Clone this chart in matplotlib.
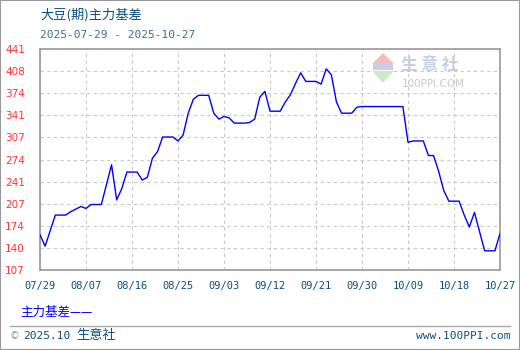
# -*- coding: utf-8 -*-
"""
大豆(期)主力基差 chart
"""
import pandas as pd
import matplotlib
matplotlib.use('Agg')
import matplotlib.pyplot as plt
from matplotlib.patches import Polygon, Rectangle
from matplotlib.lines import Line2D

plt.rcParams['font.family'] = ['Noto Sans CJK SC', 'DejaVu Sans']

# data (vertices of the line, MM-DD in 2025)
dates = ['07-29', '07-30', '08-01', '08-03', '08-04', '08-05', '08-06', '08-07', '08-08',
         '08-10', '08-12', '08-13', '08-14', '08-15', '08-17', '08-18', '08-19', '08-20',
         '08-21', '08-22', '08-24', '08-25', '08-26', '08-27', '08-28', '08-29', '08-31',
         '09-01', '09-02', '09-03', '09-04', '09-05', '09-07', '09-08', '09-09', '09-10',
         '09-11', '09-12', '09-14', '09-15', '09-16', '09-17', '09-18', '09-19', '09-21',
         '09-22', '09-23', '09-24', '09-25', '09-26', '09-28', '09-29', '09-30', '10-08',
         '10-09', '10-10', '10-12', '10-13', '10-14', '10-15', '10-16', '10-17', '10-19',
         '10-20', '10-21', '10-22', '10-23', '10-24', '10-26', '10-27']
basis = [160, 143, 190, 190, 195, 199, 203, 200, 206,
         206, 266, 213, 230, 255, 255, 243, 247, 276,
         286, 308, 308, 302, 311, 344, 365, 371, 371,
         344, 335, 339, 337, 329, 329, 330, 335, 368,
         377, 347, 347, 361, 372, 389, 405, 392, 392,
         388, 411, 402, 361, 344, 344, 353, 354, 354,
         300, 302, 302, 280, 280, 256, 227, 211, 211,
         190, 172, 194, 165, 136, 136, 162]
y_ticks = [107, 140, 174, 207, 241, 274, 307, 341, 374, 408, 441]
x_ticks = ['07/29', '08/07', '08/16', '08/25', '09/03', '09/12', '09/21',
           '09/30', '10/09', '10/18', '10/27']

W, H = 520, 350
fig = plt.figure(figsize=(W / 100, H / 100), dpi=100)


def fx(px):
    return px / W


def fy(py):
    return 1 - py / H


ax = fig.add_axes([fx(40), fy(270), fx(460), 221 / H])
ax.set_facecolor('none')

x = pd.to_datetime(['2025-' + d for d in dates])
ax.plot(x, basis, color='#0000ff', lw=1.0, zorder=3)

ax.set_ylim(107, 441)
y_pos = [107 + i * (441 - 107) / 10 for i in range(11)]
ax.set_yticks(y_pos)
ax.set_yticklabels([str(v) for v in y_ticks], color='#ff3333', fontsize=7.5,
                   ha='left', family='DejaVu Sans')

x_pos = pd.to_datetime(['2025-' + t.replace('/', '-') for t in x_ticks])
ax.set_xlim(x_pos[0], x_pos[-1])
ax.set_xticks(x_pos)
ax.set_xticklabels(x_ticks, color='#0a4f80', fontsize=7.5, family='DejaVu Sans Mono')

ax.tick_params(axis='y', length=0, pad=25)
ax.tick_params(axis='x', length=0, pad=8)
ax.grid(True, color='#c8c8c8', linestyle=(0, (3, 3)), lw=0.8)
ax.set_axisbelow(True)
for s in ax.spines.values():
    s.set_color('#999999')
    s.set_linewidth(1.2)

# watermark
fig.patches.append(Polygon([[fx(372), fy(64)], [fx(383), fy(53)], [fx(394), fy(64)]],
                           closed=True, fc='#f6bcbc', ec='none', transform=fig.transFigure,
                           zorder=0.5))
fig.patches.append(Rectangle((fx(373), fy(70)), fx(20), 6 / H, fc='#c9cfe0', ec='none',
                             transform=fig.transFigure, zorder=0.5))
fig.patches.append(Polygon([[fx(372), fy(71)], [fx(383), fy(83)], [fx(394), fy(71)]],
                           closed=True, fc='#c8ecc8', ec='none', transform=fig.transFigure,
                           zorder=0.5))
fig.text(fx(401), fy(65), '生 意 社', color='#c9cfe0', fontsize=12, fontweight='bold',
         va='center', ha='left', zorder=0.5)
fig.text(fx(402), fy(84), '100PPI.COM', color='#c8c8c8', fontsize=7.5,
         family='DejaVu Sans', va='center', ha='left', zorder=0.5)

# titles
fig.text(fx(40), fy(15), '大豆(期)主力基差', color='#0a4f80', fontsize=9.5, va='center')
fig.text(fx(40), fy(35), '2025-07-29 - 2025-10-27', color='#3a6f98', fontsize=8,
         family='DejaVu Sans Mono', va='center')

# legend
fig.text(fx(20), fy(312), '主力基差——', color='#0000ff', fontsize=9, va='center')

# footer
fig.lines.append(Line2D([fx(10), fx(510)], [fy(326), fy(326)], color='#aaaaaa', lw=1,
                        transform=fig.transFigure))
fig.text(fx(10), fy(336), '©', color='#7a9ab8', fontsize=7, va='center',
         family='DejaVu Sans')
fig.text(fx(23), fy(336), '2025.10', color='#0a4f80', fontsize=8, va='center',
         family='DejaVu Sans Mono')
fig.text(fx(76), fy(336), '生意社', color='#0a4f80', fontsize=9.5, va='center')
fig.text(fx(510), fy(336), 'www.100PPI.com', color='#0a4f80', fontsize=8, va='center',
         ha='right', family='DejaVu Sans Mono')

# outer border
fig.patches.append(Rectangle((0, 0), 1, 1, fill=False, ec='#999999', lw=1.5,
                             transform=fig.transFigure))

fig.savefig('out.png', dpi=100)
plt.close(fig)
